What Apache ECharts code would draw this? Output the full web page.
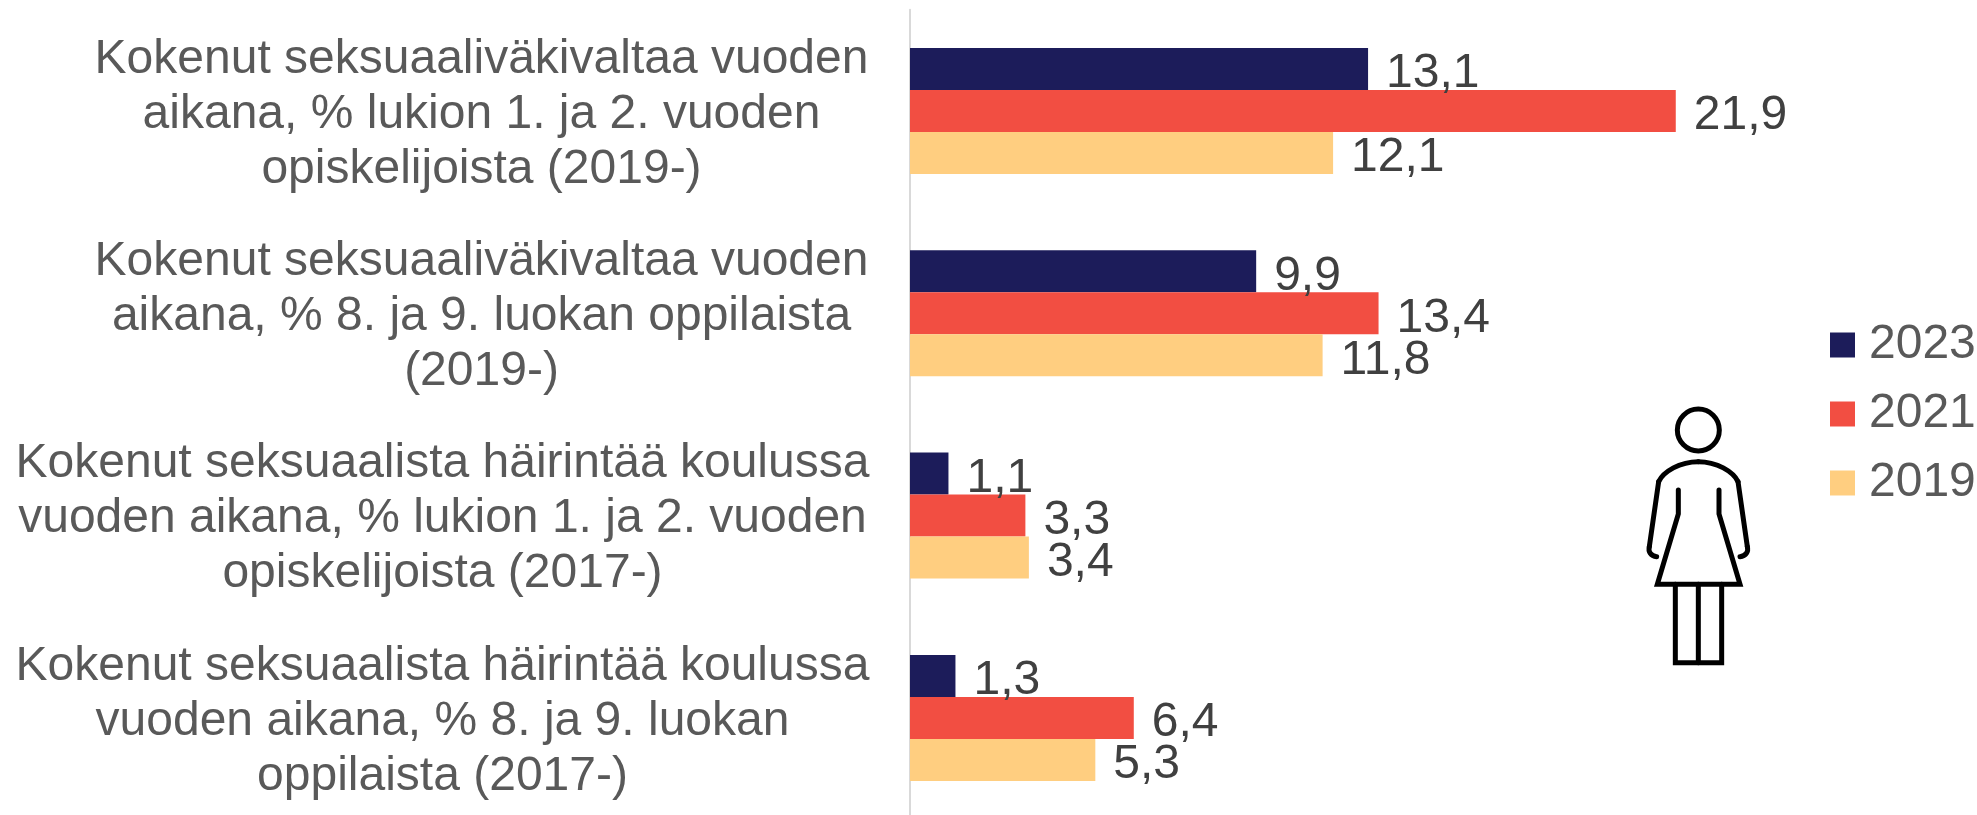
<!DOCTYPE html>
<html><head><meta charset="utf-8">
<style>html,body{margin:0;padding:0;background:#fff;width:1977px;height:815px;overflow:hidden}#c{width:1977px;height:830px}</style>
<script src="https://cdn.jsdelivr.net/npm/echarts@6/dist/echarts.min.js"></script>
</head><body><div id="c"></div>
<script>
const categories = [
  "Kokenut seksuaaliväkivaltaa vuoden\naikana, % lukion 1. ja 2. vuoden\nopiskelijoista (2019-)",
  "Kokenut seksuaaliväkivaltaa vuoden\naikana, % 8. ja 9. luokan oppilaista\n(2019-)",
  "Kokenut seksuaalista häirintää koulussa\nvuoden aikana, % lukion 1. ja 2. vuoden\nopiskelijoista (2017-)",
  "Kokenut seksuaalista häirintää koulussa\nvuoden aikana, % 8. ja 9. luokan\noppilaista (2017-)"
];
const values2023 = [13.1, 9.9, 1.1, 1.3];
const values2021 = [21.9, 13.4, 3.3, 6.4];
const values2019 = [12.1, 11.8, 3.4, 5.3];
const FONT = '"Liberation Sans", Arial, sans-serif';
const chart = echarts.init(document.getElementById('c'), null, {renderer:'canvas'});
const fmt = p => p.value.toFixed(1).replace('.', ',');
const mk = (name, data, color) => ({
  name, type:'bar', data, barWidth:42, barGap:'0%',
  itemStyle:{color},
  label:{show:true, position:'right', distance:18, offset:[0,5], formatter:fmt,
    fontFamily:FONT, fontSize:48, color:'#404040'}
});
const ox = 1600, oy = 300, k = 1/3;
const X = v => ox + v*k, Y = v => oy + v*k;
const st = {fill:null, stroke:'#000', lineWidth:5, lineCap:'round', lineJoin:'miter'};
const poly = pts => ({type:'polyline', shape:{points:pts.map(p=>[X(p[0]),Y(p[1])])}, style:st, silent:true});
const bez = (a,b,c,d) => ({type:'bezierCurve', shape:{x1:X(a[0]),y1:Y(a[1]),cpx1:X(b[0]),cpy1:Y(b[1]),cpx2:X(c[0]),cpy2:Y(c[1]),x2:X(d[0]),y2:Y(d[1])}, style:st, silent:true});
const icon = [
  {type:'circle', shape:{cx:X(295), cy:Y(390), r:21}, style:st, silent:true},
  poly([[148,740],[176,545]]),
  poly([[442,740],[414,545]]),
  bez([176,545],[190,515],[240,485],[295,485]),
  bez([414,545],[400,515],[350,485],[295,485]),
  bez([148,740],[144,755],[152,768],[170,770]),
  bez([442,740],[446,755],[438,768],[420,770]),
  poly([[235,570],[235,642],[172,853],[420,853],[357,642],[357,570]]),
  poly([[226,853],[226,1088],[365,1088],[365,853]]),
  poly([[295,853],[295,1088]])
];
chart.setOption({
  animation:false,
  backgroundColor:'#fff',
  legend:{
    show:true, orient:'vertical', left:1830, top:321, padding:0,
    itemWidth:25, itemHeight:25, itemGap:21,
    icon:'rect', data:['2023','2021','2019'],
    textStyle:{fontFamily:FONT, fontSize:48, lineHeight:48, color:'#595959', padding:[0,0,0,9]}
  },
  grid:{left:910, top:9.8, width:1049, height:809.3},
  xAxis:{type:'value', min:0, max:30, show:false},
  yAxis:{
    type:'category', inverse:true, data:categories,
    axisLine:{show:true, lineStyle:{color:'#D9D9D9', width:2}},
    axisTick:{show:false},
    axisLabel:{
      margin:42, interval:0, padding:[7,0,0,0],
      formatter:(v,i)=>{ const t = i<2?'a':'b'; return v.split('\n').map(l=>'{'+t+'|'+l+'}').join('\n'); },
      rich:{
        a:{width:773, align:'center', fontFamily:FONT, fontSize:48, lineHeight:55, color:'#595959'},
        b:{width:851, align:'center', fontFamily:FONT, fontSize:48, lineHeight:55, color:'#595959'}
      }
    }
  },
  series:[mk('2023',values2023,'#1C1C5A'), mk('2021',values2021,'#F24E42'), mk('2019',values2019,'#FFCE80')],
  graphic:{elements:icon}
});
</script></body></html>
